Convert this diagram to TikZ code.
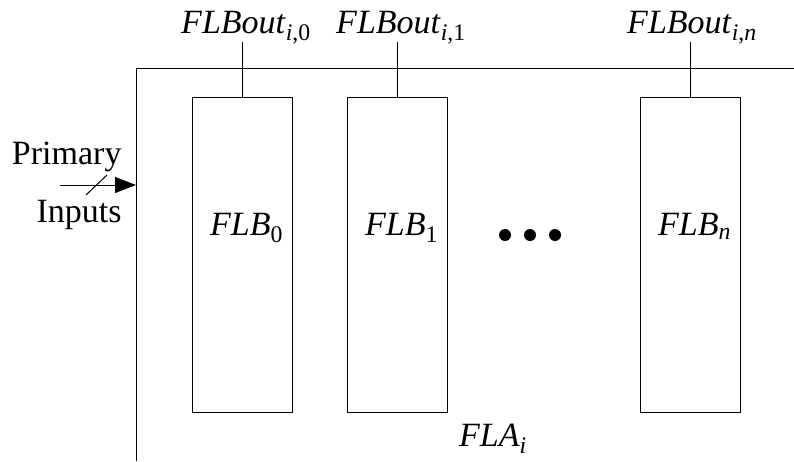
\documentclass[tikz,border=0pt]{standalone}
\usepackage{fontspec}
\setmainfont{Liberation Serif}
\usetikzlibrary{arrows.meta}
% italic name with a subscript, set the way an equation editor would
\newcommand{\isub}[2]{\textit{#1}\textsubscript{#2}}

\begin{document}
\begin{tikzpicture}[x=1pt, y=-1pt, line width=1pt,
  every node/.style={inner sep=0pt, font=\fontsize{34}{40}\selectfont},
  flbbox/.style={draw, minimum width=100pt, minimum height=315pt, anchor=north west},
  outlabel/.style={anchor=base},
  wire/.style={line width=1pt}]
\useasboundingbox (0,0) rectangle (794,461);

% enclosing array frame (only its left and top sides show)
\coordinate (frameTR) at (794,68);
\coordinate (frameTL) at (136,68);
\coordinate (frameBL) at (136,461);
\draw[wire] (frameTR) -- (frameTL) -- (frameBL);

% logic blocks
\node[flbbox] (b0) at (192,97) {};
\node[flbbox] (b1) at (347,97) {};
\node[flbbox] (bn) at (640,97) {};

\node[anchor=base, yshift=19.5pt, xshift=4pt] (t0) at (b0.center) {\isub{FLB}{0}};
\node[anchor=base, yshift=19.5pt, xshift=4pt] (t1) at (b1.center) {\isub{FLB}{1}};
\node[anchor=base, yshift=19.5pt, xshift=4pt] (tn) at (bn.center) {\isub{FLB}{\textit{n}}};

% block outputs
\node[outlabel] (o0) at (246,33) {\isub{FLBout}{\textit{i},0}};
\node[outlabel] (o1) at (401,33) {\isub{FLBout}{\textit{i},1}};
\node[outlabel] (on) at (692,33) {\isub{FLBout}{\textit{i},\textit{n}}};
\draw[wire] (b0.north) -- (b0.north |- 0,42);
\draw[wire] (b1.north) -- (b1.north |- 0,42);
\draw[wire] (bn.north) -- (bn.north |- 0,42);

% ellipsis between the blocks
\fill (505,235) circle (6pt);
\fill (530,235) circle (6pt);
\fill (555,235) circle (6pt);

% primary input bus
\node[anchor=base east] (pri) at (122,164) {Primary};
\node[anchor=base east] (inp) at (122,222) {Inputs};
\coordinate (busStart) at (60,185);
\coordinate (busEnd) at (136,185);
\draw[wire, -{Triangle[length=21pt, width=16pt]}] (busStart) -- (busEnd);
\draw[wire] (86,195) -- (107,175);

% array name
\node[anchor=base] (fla) at (493,446) {\isub{FLA}{\textit{i}}};
\end{tikzpicture}
\end{document}
